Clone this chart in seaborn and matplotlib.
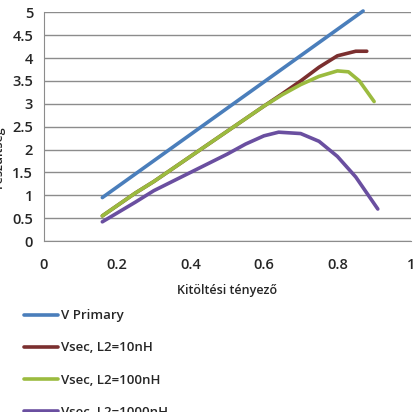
import matplotlib
matplotlib.use("Agg")
import matplotlib.pyplot as plt
import seaborn as sns
import pandas as pd

# Data
x_primary = [0.16, 0.87]
v_primary = [0.95, 5.03]

x_sec = [0.16, 0.25, 0.3, 0.4, 0.5, 0.6, 0.65, 0.7, 0.75, 0.8, 0.85, 0.88]
v_10nH = [0.55, 1.05, 1.3, 1.85, 2.4, 2.95, 3.22, 3.5, 3.8, 4.05, 4.15, 4.15]

x_100 = [0.16, 0.25, 0.3, 0.4, 0.5, 0.6, 0.65, 0.7, 0.75, 0.8, 0.83, 0.86, 0.9]
v_100nH = [0.55, 1.05, 1.3, 1.85, 2.4, 2.95, 3.2, 3.42, 3.6, 3.72, 3.7, 3.5, 3.05]

x_1000 = [0.16, 0.25, 0.3, 0.4, 0.5, 0.55, 0.6, 0.64, 0.7, 0.75, 0.8, 0.85, 0.88, 0.91]
v_1000nH = [0.42, 0.85, 1.1, 1.5, 1.9, 2.12, 2.3, 2.38, 2.35, 2.18, 1.85, 1.4, 1.05, 0.7]

series_names = ["V Primary", "Vsec, L2=10nH", "Vsec, L2=100nH", "Vsec, L2=1000nH"]
colors = ["#4a7ebb", "#7b2f2f", "#9bbb3f", "#6a4fa0"]

x_ticks = [0, 0.2, 0.4, 0.6, 0.8, 1]
y_ticks = [0, 0.5, 1, 1.5, 2, 2.5, 3, 3.5, 4, 4.5, 5]
x_label = "Kitöltési tényező"
y_label = "Feszültség"

frames = []
for name, xs, ys in zip(series_names,
                        [x_primary, x_sec, x_100, x_1000],
                        [v_primary, v_10nH, v_100nH, v_1000nH]):
    frames.append(pd.DataFrame({"x": xs, "y": ys, "series": name}))
df = pd.concat(frames, ignore_index=True)

sns.set_style("white")
plt.rcParams["font.family"] = ["Open Sans", "DejaVu Sans"]

fig = plt.figure(figsize=(4.15, 4.12), dpi=100)
ax = fig.add_axes([0.105, 0.415, 0.885, 0.555])

sns.lineplot(data=df, x="x", y="y", hue="series", palette=colors,
             hue_order=series_names, linewidth=2.6, ax=ax, legend=False,
             sort=False, estimator=None)
for line in ax.get_lines():
    line.set_clip_on(False)

ax.set_xlim(0, 1)
ax.set_ylim(0, 5)
ax.set_xticks(x_ticks)
ax.set_xticklabels([f"{t:g}" for t in x_ticks])
ax.set_yticks(y_ticks)
ax.set_yticklabels([f"{t:g}" for t in y_ticks])
ax.yaxis.grid(True, color="#8c8c8c", linewidth=1)
ax.xaxis.grid(False)
for side in ["top", "right"]:
    ax.spines[side].set_visible(False)
ax.spines["left"].set_color("#8c8c8c")
ax.spines["bottom"].set_color("#8c8c8c")
ax.tick_params(axis="both", labelsize=10.5, length=4, color="#8c8c8c",
               direction="out")
for lab in ax.get_xticklabels() + ax.get_yticklabels():
    lab.set_fontweight("semibold")
ax.tick_params(axis="x", pad=8)
ax.set_xlabel(x_label, fontsize=9, fontweight="semibold", labelpad=9)
ax.set_ylabel("")
fig.text(-0.005, 0.62, y_label, rotation=90, fontsize=9,
         fontweight="semibold", ha="center", va="center")

handles = [plt.Line2D([], [], color=c, linewidth=2.6) for c in colors]
leg = fig.legend(handles, series_names, loc="upper left",
                 bbox_to_anchor=(0.045, 0.262), frameon=False,
                 prop={"size": 9.5, "weight": "semibold"},
                 labelspacing=1.45, handlelength=2.6, handletextpad=0.2,
                 borderaxespad=0)

fig.savefig("out.png", dpi=100)
